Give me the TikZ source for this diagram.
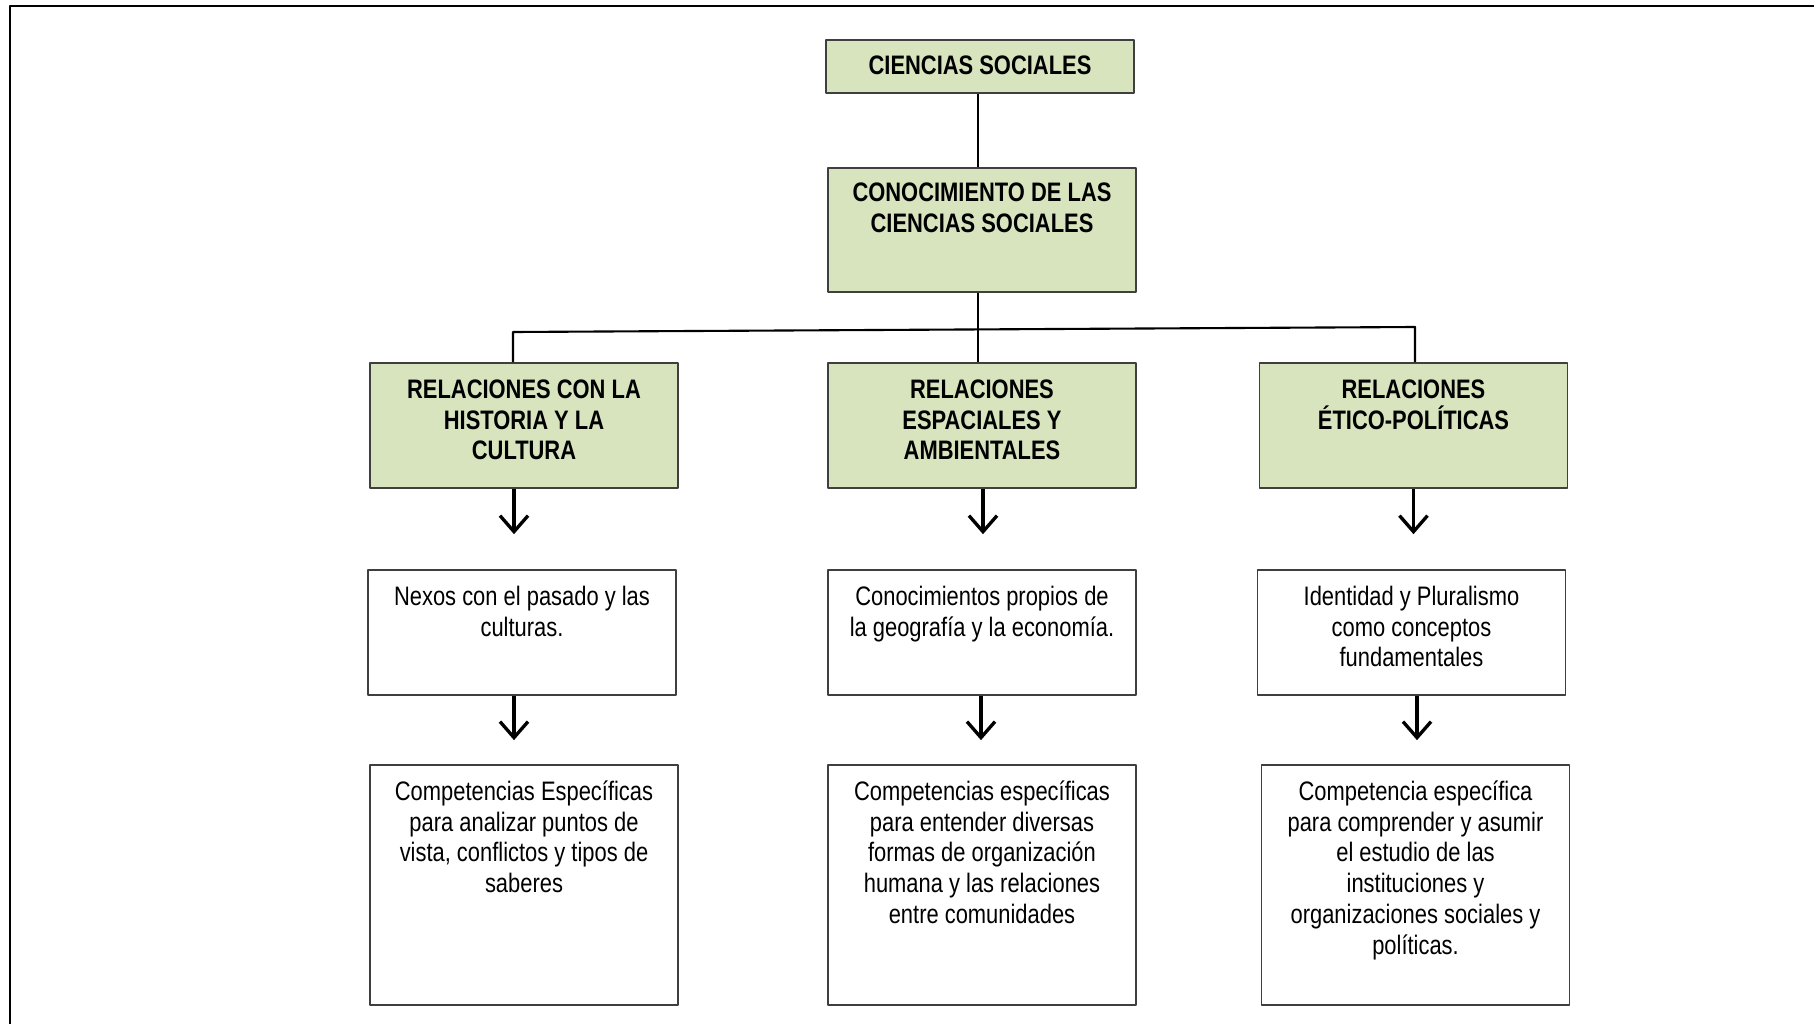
\documentclass[tikz,border=0pt]{standalone}
\usepackage{fontspec}
\setmainfont{Liberation Sans}[FakeStretch=0.82]
\usetikzlibrary{arrows.meta}
\definecolor{verde}{HTML}{D7E4BD}
\definecolor{borde}{HTML}{3F3F3F}
\begin{document}
\begin{tikzpicture}[x=0.01cm, y=-0.01cm, line join=round,
    font=\fontsize{7.6}{8.76}\selectfont,
    caja/.style={draw=borde, line width=0.43pt, minimum width=3.08cm, inner sep=0pt},
    cajaverde/.style={caja, fill=verde},
    texto/.style={anchor=base, text width=3cm, align=flush center, inner sep=0pt},
    titulo/.style={texto, font=\fontsize{7.6}{8.76}\selectfont\bfseries},
    flecha/.style={-{Straight Barb[length=1.6mm,width=2.8mm]}, line width=0.95pt}]
    \useasboundingbox (0,0) rectangle (1814,1024);
    \draw[line width=0.8pt] (10,1024) -- (10,6) -- (1814,6); % marco
    % cajas verdes
    \node[cajaverde, minimum height=0.53cm] (cs) at (980,66.5) {};
    \node[cajaverde, minimum height=1.24cm] (con) at (982,230) {};
    \node[cajaverde, minimum height=1.25cm] (r1) at (524,425.5) {};
    \node[cajaverde, minimum height=1.25cm] (r2) at (982,425.5) {};
    \node[cajaverde, minimum height=1.25cm] (r3) at (1413.5,425.5) {};
    % cajas blancas
    \node[caja, minimum height=1.25cm] (t1) at (522,632.5) {};
    \node[caja, minimum height=1.25cm] (t2) at (982,632.5) {};
    \node[caja, minimum height=1.25cm] (t3) at (1411.5,632.5) {};
    \node[caja, minimum height=2.40cm] (c1) at (524,885) {};
    \node[caja, minimum height=2.40cm] (c2) at (982,885) {};
    \node[caja, minimum height=2.40cm] (c3) at (1415.5,885) {};
    % textos
    \node[titulo] (cs-t) at ([yshift=-0.355cm]cs.north) {CIENCIAS SOCIALES};
    \node[titulo] (con-t) at ([yshift=-0.34cm]con.north) {CONOCIMIENTO DE LAS\\CIENCIAS SOCIALES};
    \node[titulo] (r1-t) at ([yshift=-0.36cm]r1.north) {RELACIONES CON LA\\HISTORIA Y LA\\CULTURA};
    \node[titulo] (r2-t) at ([yshift=-0.36cm]r2.north) {RELACIONES\\ESPACIALES Y\\AMBIENTALES};
    \node[titulo] (r3-t) at ([yshift=-0.36cm]r3.north) {RELACIONES\\ÉTICO-POLÍTICAS};
    \node[texto] (t1-t) at ([yshift=-0.36cm]t1.north) {Nexos con el pasado y las\\culturas.};
    \node[texto] (t2-t) at ([yshift=-0.36cm]t2.north) {Conocimientos propios de\\la geografía y la economía.};
    \node[texto] (t3-t) at ([yshift=-0.36cm]t3.north) {Identidad y Pluralismo\\como conceptos\\fundamentales};
    \node[texto] (c1-t) at ([yshift=-0.36cm]c1.north) {Competencias Específicas\\para analizar puntos de\\vista, conflictos y tipos de\\saberes};
    \node[texto] (c2-t) at ([yshift=-0.36cm]c2.north) {Competencias específicas\\para entender diversas\\formas de organización\\humana y las relaciones\\entre comunidades};
    \node[texto] (c3-t) at ([yshift=-0.36cm]c3.north) {Competencia específica\\para comprender y asumir\\el estudio de las\\instituciones y\\organizaciones sociales y\\políticas.};
    % conectores
    \coordinate (cen) at (978,330);
    \coordinate (izq) at (513,332);
    \coordinate (der) at (1415,327);
    \draw[line width=0.43pt] (cs.south -| cen) -- (con.north -| cen);
    \draw[line width=0.43pt] (con.south -| cen) -- (r2.north -| cen);
    \draw[line width=0.6pt] (izq |- r1.north) -- (izq) -- (der) -- (der |- r3.north);
    \foreach \a/\b/\dx/\s in {r1/t1/-0.1/0.35, r2/t2/0.01/0.35, r3/t3/0/0.35,
                             t1/c1/-0.08/0.24, t2/c2/-0.01/0.24, t3/c3/0.055/0.24}
        \draw[flecha, shorten >=\s cm] ([xshift=\dx cm]\a.south) -- ([xshift=\dx cm]\a.south |- \b.north);
\end{tikzpicture}
\end{document}
